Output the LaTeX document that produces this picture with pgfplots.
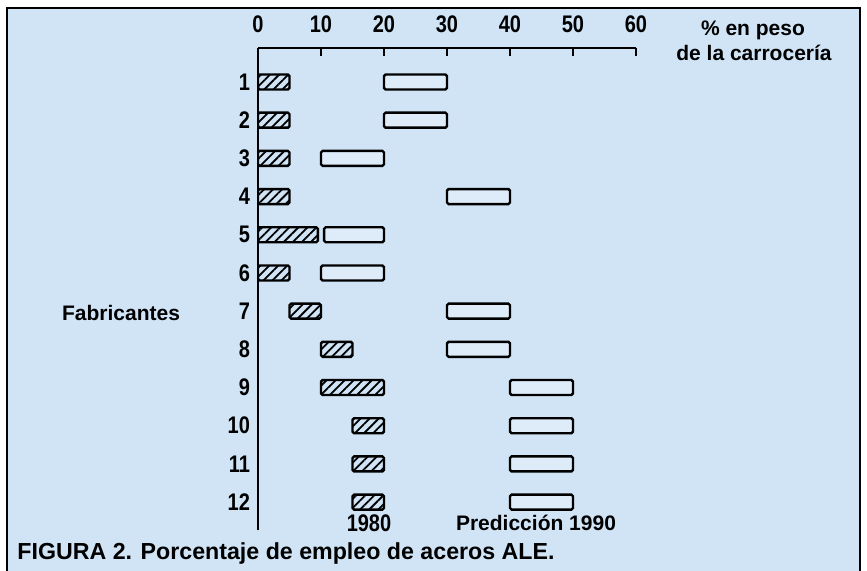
\documentclass[border=0pt]{standalone}
\usepackage{pgfplots}
\pgfplotsset{compat=1.18}
\usepackage{pgfplotstable}
\usepackage{fontspec}
\setmainfont{Liberation Sans}
\usetikzlibrary{patterns.meta}
\definecolor{bg}{RGB}{208,228,246}
\definecolor{boxfill}{RGB}{222,236,250}

% y = 13 - fabricante; s1 = start 1980, l1 = length 1980, gap, l2 = length 1990
\pgfplotstableread{
fab y s1 l1 gap l2
1 12 0 5 15 10
2 11 0 5 15 10
3 10 0 5 5 10
4 9 0 5 25 10
5 8 0 9.5 1 9.5
6 7 0 5 5 10
7 6 5 5 20 10
8 5 10 5 15 10
9 4 10 10 20 10
10 3 15 5 20 10
11 2 15 5 20 10
12 1 15 5 20 10
}\datatable

\newcommand{\tickfont}{\fontsize{10}{11}\selectfont\bfseries}
\newcommand{\tall}[1]{\scalebox{1}[1.2]{#1}}

\begin{document}
\begin{tikzpicture}
\begin{scope}[x=0.5pt,y=-0.5pt]
\path[use as bounding box] (0,0) rectangle (867,571);
\fill[white] (0,0) rectangle (867,571);
\fill[bg] (7,8) rectangle (860,571);
\draw[line width=1.3pt] (7,571)--(7,8)--(860,8)--(860,571);
\end{scope}
\begin{axis}[
  at={(129pt,-24pt)}, anchor=north west,
  scale only axis, width=189pt, height=241pt,
  xmin=0, xmax=60, ymin=0.27, ymax=12.89,
  axis x line=top, axis y line=left,
  axis line style={-, line width=1.3pt},
  tick align=inside,
  xtick={0,10,...,60},
  major tick length=4pt,
  xtick style={line width=1.2pt, black},
  ytick={1,...,12},
  ytick style={draw=none},
  xticklabel={\tall{\pgfmathprintnumber[assume math mode=true]{\tick}}},
  xticklabel style={font=\tickfont, yshift=4pt},
  yticklabel={\pgfmathtruncatemacro{\fabn}{13-\tick}\tall{\fabn}},
  yticklabel style={font=\tickfont, xshift=-0.5pt},
  xbar stacked, bar width=7.5pt,
]
\addplot[draw=none, fill=none] table[x=s1, y=y] {\datatable};
\addplot[draw=black, line width=1.2pt, rounded corners=0.8pt,
  pattern={Lines[angle=45, distance=3.2pt, line width=0.9pt]}, pattern color=black]
  table[x=l1, y=y] {\datatable};
\addplot[draw=none, fill=none] table[x=gap, y=y] {\datatable};
\addplot[draw=black, line width=1.2pt, rounded corners=0.8pt, fill=boxfill]
  table[x=l2, y=y] {\datatable};
\end{axis}
\begin{scope}[x=0.5pt,y=-0.5pt, every node/.style={font=\fontsize{10.5}{12}\selectfont\bfseries, inner sep=0pt}]
\node at (753,30) {\% en peso};
\node at (754,53) {de la carrocería};
\node at (121,313) {Fabricantes};
\node[font=\tickfont] at (369,523) {\tall{1980}};
\node at (536,523) {Predicción 1990};
\node[anchor=west, font=\fontsize{11.6}{13}\selectfont\bfseries] at (17,553) {FIGURA 2. Porcentaje de empleo de aceros ALE.};
\end{scope}
\end{tikzpicture}
\end{document}
